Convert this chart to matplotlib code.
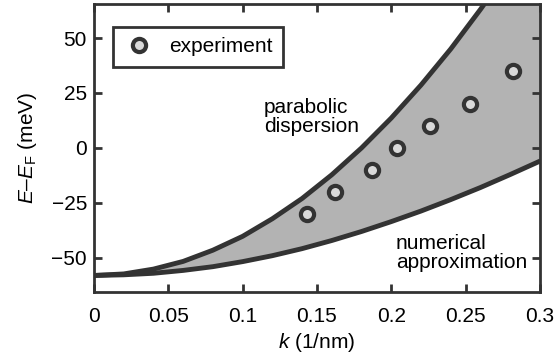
import matplotlib
matplotlib.use("Agg")
import matplotlib.pyplot as plt

plt.rcParams['font.family'] = ['Liberation Sans', 'DejaVu Sans']
plt.rcParams['mathtext.fontset'] = 'custom'
plt.rcParams['mathtext.rm'] = 'Liberation Sans'
plt.rcParams['mathtext.it'] = 'Liberation Sans:italic'

# values
k_curve = [0, 0.02, 0.04, 0.06, 0.08, 0.10, 0.12, 0.14, 0.16, 0.18,
           0.20, 0.22, 0.24, 0.26, 0.28, 0.30]
e_parabolic = [-58, -57.3, -55.1, -51.6, -46.5, -40.2, -32.2, -23, -12.2, 0,
               13.6, 28.6, 45, 63, 82, 103]
e_numerical = [-58, -57.7, -57.0, -55.7, -54.0, -51.7, -49.0, -45.8, -42.1, -38.0,
               -33.5, -28.7, -23.5, -18.0, -12.1, -6.0]

k_exp = [0.143, 0.162, 0.187, 0.204, 0.226, 0.253, 0.282]
e_exp = [-30, -20, -10, 0, 10, 20, 35]

xticks = [0, 0.05, 0.1, 0.15, 0.2, 0.25, 0.3]
xtick_labels = ['0', '0.05', '0.1', '0.15', '0.2', '0.25', '0.3']
yticks = [-50, -25, 0, 25, 50]

dark = '#333333'
fs = 15

fig = plt.figure(figsize=(5.56, 3.6), dpi=100)
ax = fig.add_axes([0.169, 0.189, 0.802, 0.8])

ax.fill_between(k_curve, e_numerical, e_parabolic, color='#b3b3b3', lw=0)
ax.plot(k_curve, e_parabolic, color=dark, lw=3.5, solid_capstyle='round')
ax.plot(k_curve, e_numerical, color=dark, lw=3.5, solid_capstyle='round')
ax.plot(k_exp, e_exp, 'o', ms=9.5, mfc='#d9d9d9', mec=dark, mew=3,
        label='experiment')

ax.text(0.1143, 14, 'parabolic\ndispersion', fontsize=fs, ha='left',
        va='center', linespacing=1.0)
ax.text(0.203, -48, 'numerical\napproximation', fontsize=fs, ha='left',
        va='center', linespacing=1.0)

ax.set_xlim(0, 0.3)
ax.set_ylim(-65.5, 65.5)
ax.set_xticks(xticks)
ax.set_xticklabels(xtick_labels)
ax.set_yticks(yticks)
ax.tick_params(direction='in', length=6, width=2, color=dark, labelsize=fs,
               top=True, right=True)
ax.tick_params(axis='x', pad=10.5)
ax.tick_params(axis='y', pad=5)
for s in ax.spines.values():
    s.set_linewidth(2)
    s.set_color(dark)

ax.set_xlabel(r'$k$ (1/nm)', fontsize=fs, labelpad=4)
ax.set_ylabel(r'$E$–$E_\mathrm{F}$ (meV)', fontsize=fs, labelpad=9)

leg = ax.legend(loc='upper left', bbox_to_anchor=(0.0426, 0.92), fontsize=fs,
                frameon=True, fancybox=False, borderpad=0.5, borderaxespad=0,
                handletextpad=0.7, handlelength=1.5, markerscale=1.0)
leg.get_frame().set_edgecolor(dark)
leg.get_frame().set_linewidth(2)
leg.get_frame().set_alpha(1)

fig.savefig('out.png', dpi=100)
